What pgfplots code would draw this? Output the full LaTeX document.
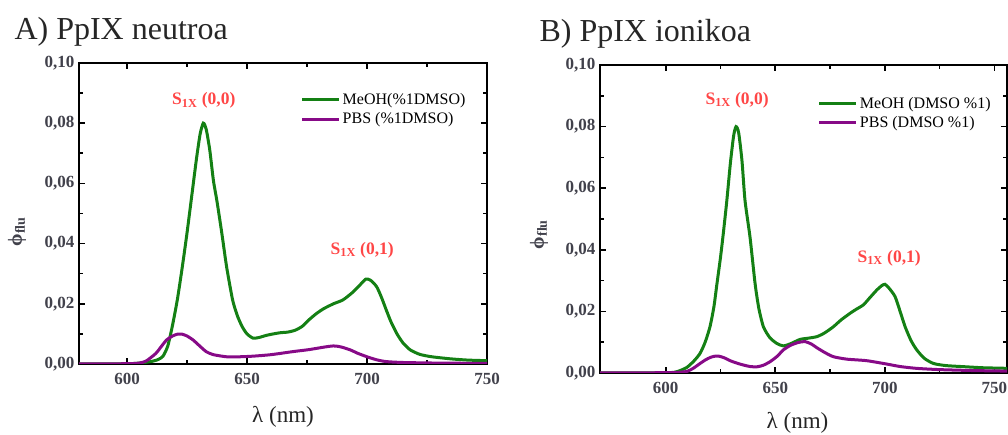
\documentclass[border=0pt]{standalone}
\usepackage{pgfplots}
\pgfplotsset{compat=1.18}
\usepackage{pgfplotstable}
\usepackage{fontspec}
\setmainfont{Liberation Serif}

\definecolor{meoh}{RGB}{20,128,20}
\definecolor{pbs}{RGB}{135,10,135}
\definecolor{annot}{RGB}{255,70,70}
\definecolor{ticktext}{RGB}{65,65,75}

% Panel A: neutral PpIX
\pgfplotstableread{
x y
580 0
600 0.0001
605 0.0003
610 0.0008
613 0.0015
615 0.0026
617 0.0060
619 0.0130
621 0.0215
623 0.0320
625 0.0435
627 0.0560
629 0.0685
630.5 0.0765
631.8 0.0800
633 0.0780
634.5 0.0710
636 0.0610
637.5 0.0540
639.5 0.0435
641.5 0.0323
644 0.0213
646 0.0160
648 0.0124
650 0.0100
652.5 0.0086
655 0.0088
658 0.0095
661 0.0100
664 0.0104
667 0.0106
670 0.0112
673 0.0125
676 0.0148
679 0.0168
682 0.0184
686 0.0200
690 0.0213
694 0.0238
697 0.0262
699.5 0.0282
701.5 0.0278
704 0.0257
706 0.0222
708 0.0180
710 0.0140
712.5 0.0100
715 0.0070
718 0.0047
722 0.0032
727 0.0024
735 0.0017
742 0.0013
750 0.0011
}\meohA

\pgfplotstableread{
x y
580 0
600 0.0001
605 0.0003
608 0.0010
612 0.0035
614 0.0055
616.5 0.0080
619 0.0093
621 0.0099
623 0.0099
625 0.0093
627.5 0.0080
630 0.0062
633 0.0041
636 0.0031
641.5 0.0024
647 0.0024
652.5 0.0026
660 0.0031
669 0.0041
676 0.0048
682 0.0056
686 0.0060
689 0.0057
693 0.0047
696 0.0036
700 0.0024
704 0.0014
708 0.0008
715 0.0005
730 0.0003
750 0.0002
}\pbsA

% Panel B: ionic PpIX
\pgfplotstableread{
x y
570 0
600 0.0001
605 0.0004
609.6 0.0018
613 0.0040
615.7 0.0064
618 0.0100
620.2 0.0150
622 0.0215
623.3 0.0285
625 0.0375
626.3 0.0454
627.9 0.0560
629.5 0.0680
631 0.0770
632.1 0.0800
633.3 0.0780
634.8 0.0690
636.2 0.0560
638.5 0.0440
640.8 0.0290
642.5 0.0210
644.6 0.0150
647.5 0.0115
650.7 0.0096
653.7 0.0088
657 0.0095
661.3 0.0109
665 0.0113
669 0.0118
672.5 0.0130
676.5 0.0150
680 0.0172
684.2 0.0194
687 0.0207
690.2 0.0221
693 0.0243
696.3 0.0269
698.5 0.0283
700.1 0.0288
702 0.0275
704.7 0.0248
707 0.0200
709.3 0.0150
712 0.0105
714.6 0.0075
718 0.0048
722.2 0.0031
728 0.0024
737.4 0.0020
745 0.0017
757 0.0015
}\meohB

\pgfplotstableread{
x y
570 0
600 0.0001
605 0.0002
609.6 0.0005
612.5 0.0015
615.7 0.0031
618 0.0042
620.2 0.0050
622 0.0054
624 0.0055
626.5 0.0050
629.4 0.0040
632.5 0.0032
635.4 0.0026
638.5 0.0021
641.6 0.0020
644.5 0.0025
647.7 0.0037
651 0.0055
653.7 0.0075
657 0.0090
660.5 0.0099
663.6 0.0102
666.5 0.0094
669 0.0082
672.5 0.0067
676.5 0.0053
682.6 0.0045
691.7 0.0040
700.9 0.0029
707 0.0021
714.6 0.0015
725 0.0011
740 0.0008
757 0.0006
}\pbsB

\tikzset{s1label/.style={text=annot, font=\bfseries\fontsize{17.5}{17.5}\selectfont}}

\pgfplotsset{
  spectrum/.style={
    scale only axis,
    ymin=0, ymax=0.1,
    xtick={600,650,700,750},
    minor x tick num=1,
    ytick={0,0.02,0.04,0.06,0.08,0.1},
    minor y tick num=1,
    tick align=inside,
    major tick length=6pt,
    minor tick length=4pt,
    every tick/.style={black, line width=1.6pt},
    axis line style={black, line width=2pt},
    /pgf/number format/assume math mode=true,
    tick label style={font=\bfseries\fontsize{17}{17}\selectfont, text=ticktext},
    xticklabel style={yshift=-6pt},
    yticklabel style={xshift=-1pt},
    yticklabel style={/pgf/number format/.cd, fixed, fixed zerofill, precision=2, use comma},
    xticklabel style={/pgf/number format/.cd, fixed, precision=0},
    xlabel style={font=\fontsize{23}{23}\selectfont, text=black!85},
    ylabel style={font=\bfseries\fontsize{20}{20}\selectfont, text=ticktext},
    legend style={draw=none, fill=none, font=\fontsize{16}{17}\selectfont,
      anchor=north west, inner sep=0pt, row sep=3pt,
      /tikz/every even column/.append style={column sep=0pt}},
    legend cell align=left,
    legend image code/.code={\draw[#1, line width=3pt] (0pt,0pt) -- (37pt,0pt);},
    every axis plot/.append style={line width=3pt, smooth, tension=0.4},
  },
}

\begin{document}
\begin{tikzpicture}
\path[use as bounding box] (0,0) rectangle (1008pt,435pt);

\node[anchor=base west, font=\fontsize{32}{32}\selectfont, text=black!85] at (11pt,395pt) {A) PpIX neutroa};
\node[anchor=base west, font=\fontsize{32}{32}\selectfont, text=black!85] at (536pt,393pt) {B) PpIX ionikoa};

\begin{axis}[spectrum,
  at={(79pt,71pt)}, anchor=south west,
  width=408pt, height=301pt,
  xmin=580, xmax=750,
  xlabel={λ (nm)},
  xlabel style={at={(rel axis cs:0.5,0)}, anchor=base, yshift=-59pt},
  ylabel={ϕ\textsubscript{flu}},
  ylabel style={at={(rel axis cs:-0.152,0.44)}, anchor=center},
  legend style={at={(rel axis cs:0.543,0.907)}},
]
\addplot[meoh] table {\meohA};
\addplot[pbs] table {\pbsA};
\legend{MeOH(\%1DMSO), PBS (\%1DMSO)}
\node[s1label] at (axis cs:632,0.0875) {S\textsubscript{1X} (0,0)};
\node[s1label] at (axis cs:698,0.0379) {S\textsubscript{1X} (0,1)};
\end{axis}

\begin{axis}[spectrum,
  at={(600pt,62pt)}, anchor=south west,
  width=407pt, height=308pt,
  xmin=570, xmax=755.8,
  xlabel={λ (nm)},
  xlabel style={at={(rel axis cs:0.5,0)}, anchor=base, yshift=-56pt, xshift=-6pt},
  ylabel={ϕ\textsubscript{flu}},
  ylabel style={at={(rel axis cs:-0.15,0.45)}, anchor=center},
  legend style={at={(rel axis cs:0.535,0.903)}},
]
\addplot[meoh] table {\meohB};
\addplot[pbs] table {\pbsB};
\legend{MeOH (DMSO \%1), PBS (DMSO \%1)}
\node[s1label] at (axis cs:632.6,0.0886) {S\textsubscript{1X} (0,0)};
\node[s1label] at (axis cs:702,0.0373) {S\textsubscript{1X} (0,1)};
\end{axis}
\end{tikzpicture}
\end{document}
